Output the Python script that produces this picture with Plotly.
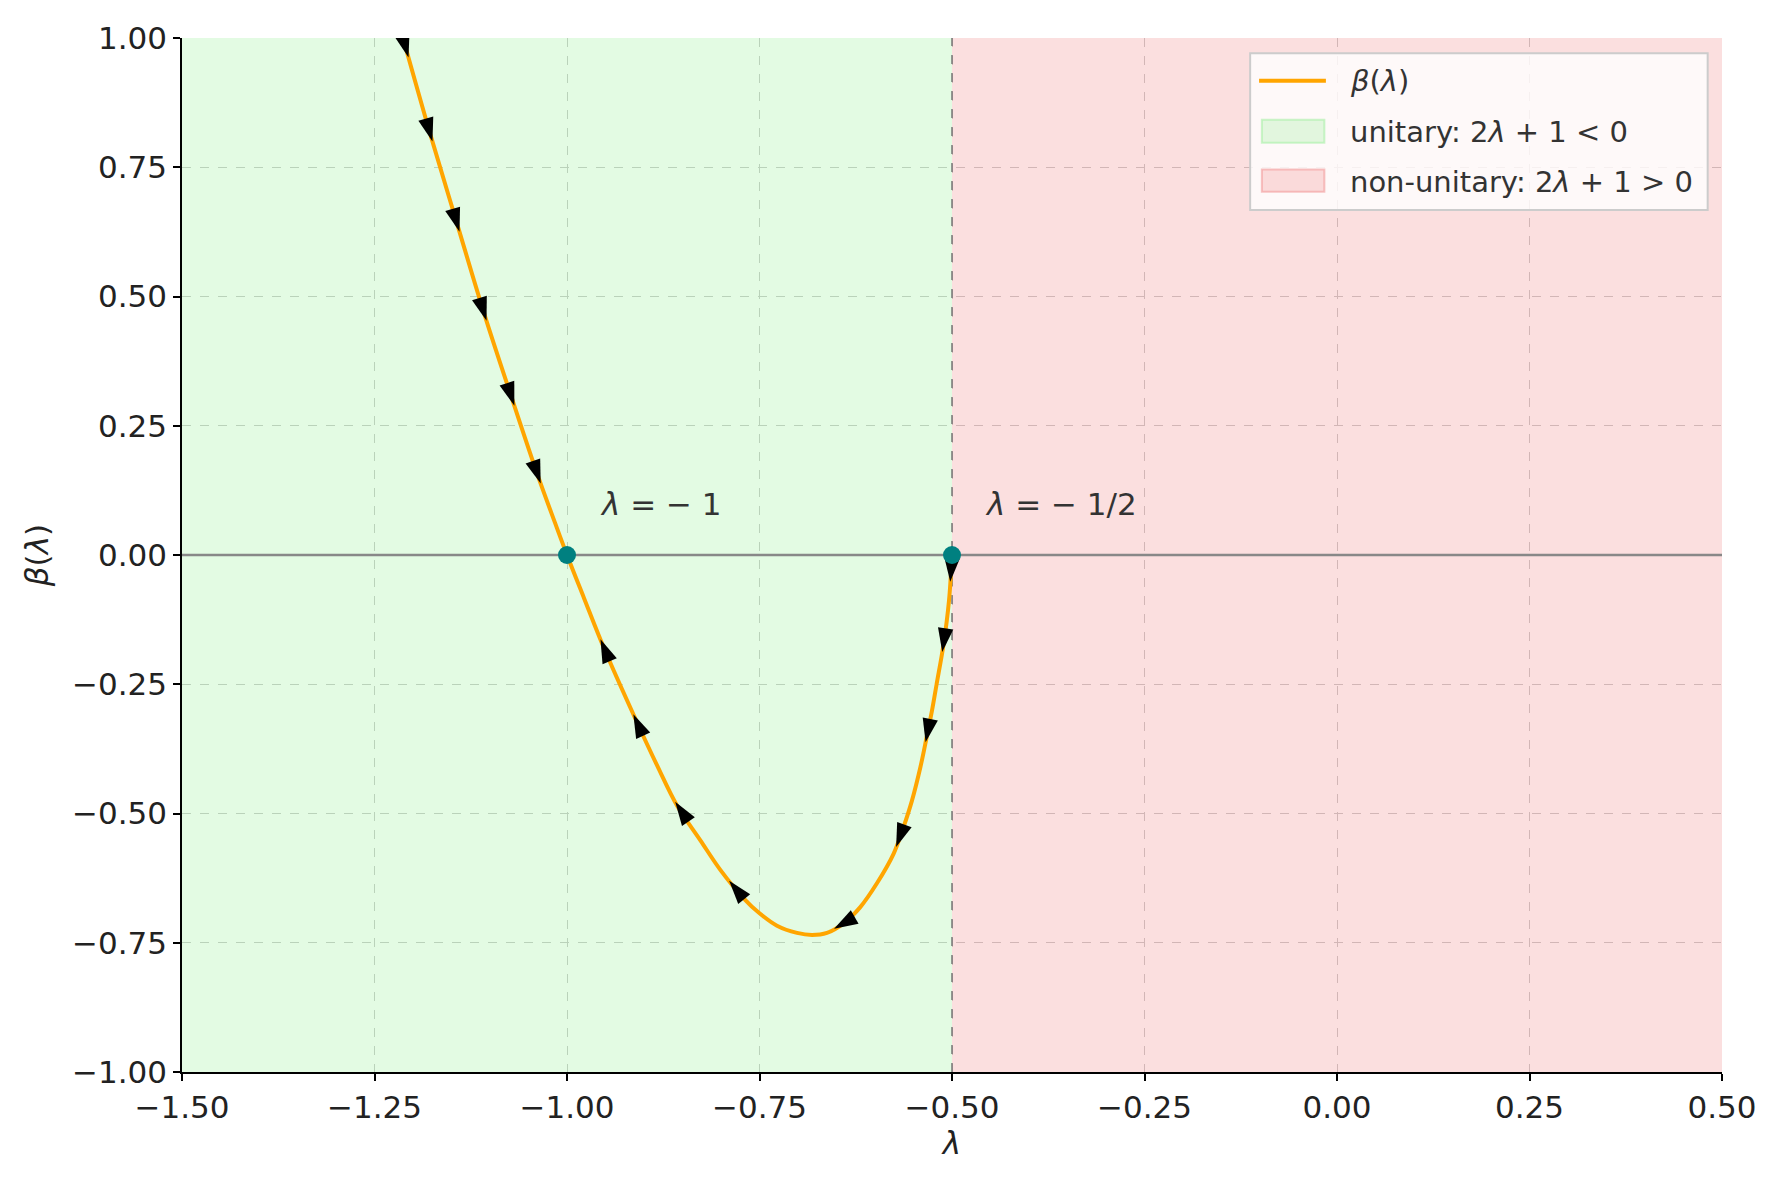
import numpy as np
import plotly.graph_objects as go

# beta(lambda) curve
lam = [-1.213, -1.178, -1.143, -1.108, -1.072, -1.038, -1.016, -1.0, -0.978, -0.952,
       -0.909, -0.883, -0.857, -0.8268, -0.8009, -0.7706, -0.750, -0.7273, -0.7013, -0.6818,
       -0.6624, -0.6408, -0.6191, -0.5975, -0.5759, -0.5629, -0.552, -0.541, -0.533,
       -0.526, -0.520, -0.511, -0.504, -0.500]
beta = [1.0, 0.816, 0.642, 0.469, 0.305, 0.154, 0.064, 0.0, -0.083, -0.180,
        -0.324, -0.407, -0.485, -0.552, -0.609, -0.664, -0.693, -0.717, -0.731, -0.735,
        -0.731, -0.7125, -0.681, -0.635, -0.578, -0.526, -0.475, -0.410, -0.353,
        -0.301, -0.250, -0.173, -0.090, 0.0]

# flow arrows: centre position along lambda and direction (+1 = increasing lambda)
arrow_lam = [-1.209, -1.178, -1.143, -1.108, -1.072, -1.038,
             -0.952, -0.909, -0.853, -0.782,
             -0.5014, -0.511, -0.532, -0.5685, -0.643]
arrow_dir = [1, 1, 1, 1, 1, 1,
             -1, -1, -1, -1,
             -1, -1, -1, -1, -1]

fixed_lam = [-1.0, -0.5]
fixed_beta = [0.0, 0.0]
fixed_text = ['<i>λ</i> = − 1', '<i>λ</i> = − 1/2']

legend_labels = ['<i>β</i>(<i>λ</i>)', 'unitary: 2<i>λ</i> + 1 &lt; 0', 'non-unitary: 2<i>λ</i> + 1 &gt; 0']

tick_vals_x = [-1.5, -1.25, -1.0, -0.75, -0.5, -0.25, 0.0, 0.25, 0.5]
tick_text_x = ['−1.50', '−1.25', '−1.00', '−0.75', '−0.50', '−0.25', '0.00', '0.25', '0.50']
tick_vals_y = [-1.0, -0.75, -0.5, -0.25, 0.0, 0.25, 0.5, 0.75, 1.0]
tick_text_y = ['−1.00', '−0.75', '−0.50', '−0.25', '0.00', '0.25', '0.50', '0.75', '1.00']

FONT = 'DejaVu Sans'
FS = 31
GREEN_FILL = 'rgba(144,238,144,0.25)'
GREEN_EDGE = 'rgba(144,238,144,0.45)'
RED_FILL = 'rgba(240,128,128,0.25)'
RED_EDGE = 'rgba(240,128,128,0.45)'

# pixels per data unit (plot area 1540.5 x 1038 px) for orienting arrow heads
PX_X = 1540.5 / 2.0
PX_Y = 1038.0 / 2.0

fig = go.Figure()

# shaded regions
fig.add_trace(go.Scatter(x=[-1.5, -0.5, -0.5, -1.5, -1.5], y=[-1, -1, 1, 1, -1],
                         fill='toself', fillcolor=GREEN_FILL, line=dict(width=0),
                         mode='lines', showlegend=False, hoverinfo='skip'))
fig.add_trace(go.Scatter(x=[-0.5, 0.5, 0.5, -0.5, -0.5], y=[-1, -1, 1, 1, -1],
                         fill='toself', fillcolor=RED_FILL, line=dict(width=0),
                         mode='lines', showlegend=False, hoverinfo='skip'))

# zero line and boundary
fig.add_trace(go.Scatter(x=[-1.5, 0.5], y=[0, 0], mode='lines',
                         line=dict(color='#888888', width=2.5), showlegend=False))
fig.add_trace(go.Scatter(x=[-0.5, -0.5], y=[-1, 1], mode='lines',
                         line=dict(color='#777777', width=1.5, dash='dash'), showlegend=False))

# curve
fig.add_trace(go.Scatter(x=lam, y=beta, mode='lines', showlegend=False,
                         line=dict(color='#FFA500', width=4, shape='spline', smoothing=1.0)))

# arrow heads along the curve: tip moved ~9 px ahead of the centre
hx, hy, ang = [], [], []
for a, d in zip(arrow_lam, arrow_dir):
    e = 0.002
    slope = (np.interp(a + e, lam, beta) - np.interp(a - e, lam, beta)) / (2 * e)
    step = 9.0 / np.hypot(PX_X, slope * PX_Y)
    tip = min(max(a + d * step, lam[0]), lam[-1])
    yb = float(np.interp(tip, lam, beta))
    dx = d * PX_X
    dy = d * slope * PX_Y
    hx.append(tip)
    hy.append(yb)
    ang.append(float(np.degrees(np.arctan2(dx, dy))))
fig.add_trace(go.Scatter(x=hx, y=hy, mode='markers', showlegend=False,
                         marker=dict(symbol='arrow', size=25, color='black',
                                     angle=ang, line=dict(width=0))))

# fixed points
fig.add_trace(go.Scatter(x=fixed_lam, y=fixed_beta, mode='markers', showlegend=False,
                         marker=dict(color='#008080', size=18)))

for xl, txt in zip(fixed_lam, fixed_text):
    fig.add_annotation(x=xl + 0.04, y=0.06, text=txt, showarrow=False,
                       xanchor='left', yanchor='bottom',
                       font=dict(family=FONT, size=FS, color='#333333'))

# legend box drawn by hand (matplotlib-style patches)
fig.add_shape(type='rect', xref='paper', yref='paper', x0=0.6936, x1=0.9907, y0=0.8336, y1=0.9853,
              fillcolor='rgba(255,255,255,0.8)', line=dict(color='#cccccc', width=2), layer='above')
fig.add_shape(type='line', xref='paper', yref='paper', x0=0.6994, x1=0.7428, y0=0.9586, y1=0.9586,
              line=dict(color='#FFA500', width=4), layer='above')
fig.add_shape(type='rect', xref='paper', yref='paper', x0=0.7012, x1=0.7418, y0=0.8988, y1=0.9210,
              fillcolor=GREEN_FILL, line=dict(color=GREEN_EDGE, width=2), layer='above')
fig.add_shape(type='rect', xref='paper', yref='paper', x0=0.7012, x1=0.7418, y0=0.8513, y1=0.8728,
              fillcolor=RED_FILL, line=dict(color=RED_EDGE, width=2), layer='above')
for yy, lab in zip([0.9586, 0.9092, 0.8610], legend_labels):
    fig.add_annotation(x=0.7572, y=yy, xref='paper', yref='paper', text=lab, showarrow=False,
                       xanchor='left', yanchor='middle',
                       font=dict(family=FONT, size=FS - 2, color='#333333'))

fig.update_xaxes(range=[-1.5, 0.5], tickvals=tick_vals_x, ticktext=tick_text_x,
                 showgrid=True, gridcolor='#c8c8c8', griddash='dash', gridwidth=1,
                 zeroline=False, showline=True, linecolor='black', linewidth=1.5,
                 ticks='outside', ticklen=7, tickwidth=1.5, tickcolor='black',
                 tickfont=dict(family=FONT, size=FS, color='#222222'),
                 title=dict(text='<i>λ</i>', font=dict(family=FONT, size=FS, color='#222222'),
                            standoff=8))
fig.update_yaxes(range=[-1, 1], tickvals=tick_vals_y, ticktext=tick_text_y,
                 showgrid=True, gridcolor='#c8c8c8', griddash='dash', gridwidth=1,
                 zeroline=False, showline=True, linecolor='black', linewidth=1.5,
                 ticks='outside', ticklen=7, tickwidth=1.5, tickcolor='black',
                 tickfont=dict(family=FONT, size=FS, color='#222222'),
                 title=dict(text='<i>β</i>(<i>λ</i>)', font=dict(family=FONT, size=FS, color='#222222'),
                            standoff=14))

fig.update_layout(
    width=1771, height=1173,
    margin=dict(l=174, r=57, t=24, b=109),
    plot_bgcolor='white', paper_bgcolor='white',
    font=dict(family=FONT, size=FS, color='#333333'),
    showlegend=False,
)

fig.write_html('out.html')
